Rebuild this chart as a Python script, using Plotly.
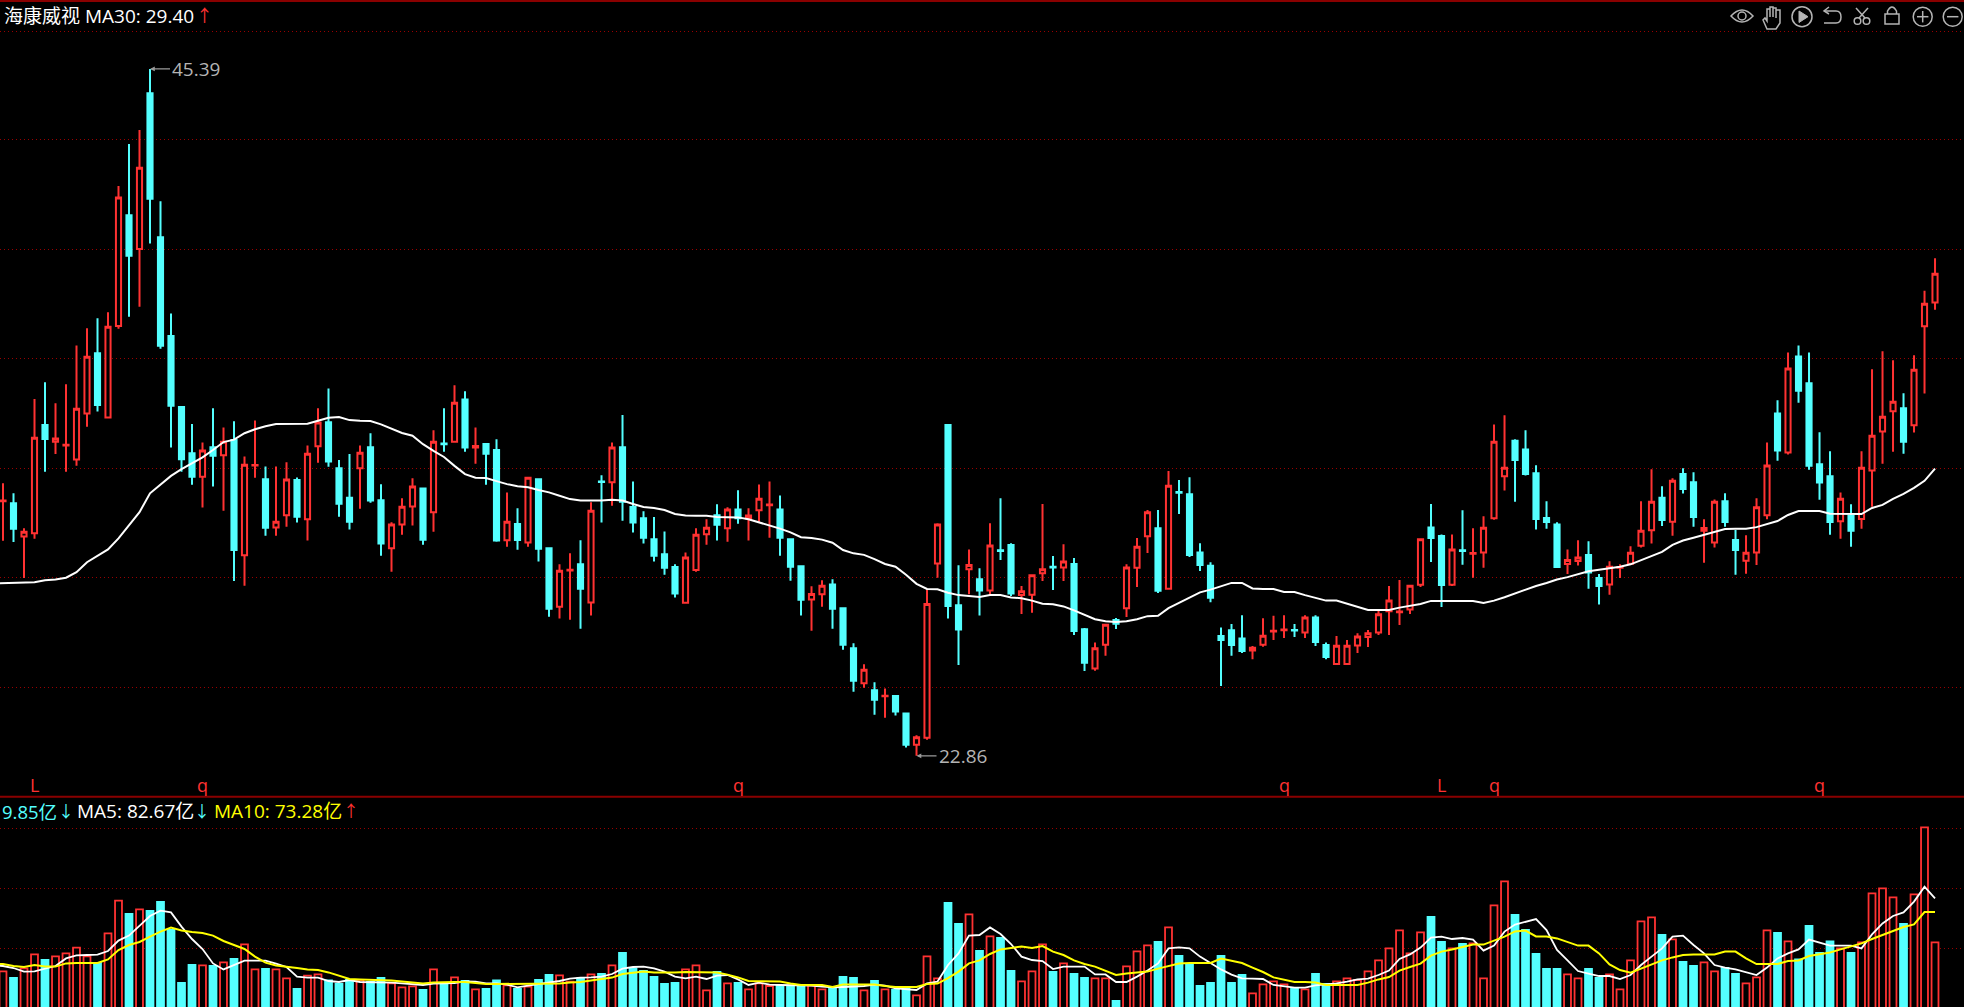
import plotly.graph_objects as go
from plotly.subplots import make_subplots

# daily candles
opens = [31.21, 31.14, 30.05, 30.16, 33.71, 33.16, 33.04, 32.58, 34.09, 36.06,
         33.96, 36.96, 40.59, 39.48, 44.59, 39.87, 36.63, 34.30, 32.78, 32.01,
         32.98, 32.72, 33.22, 29.44, 32.38, 31.93, 30.35, 30.75, 31.91, 30.62,
         33.01, 33.80, 32.29, 31.32, 32.29, 32.98, 31.24, 29.67, 30.45, 31.04,
         31.63, 30.85, 33.10, 33.16, 34.55, 32.97, 33.09, 32.89, 29.93, 30.46,
         29.86, 31.93, 29.67, 27.75, 28.94, 29.14, 27.89, 31.86, 31.83, 32.98,
         31.02, 30.65, 29.96, 29.47, 29.05, 27.88, 28.95, 30.13, 30.75, 30.32,
         30.94, 30.64, 30.91, 31.08, 30.94, 29.96, 29.08, 27.99, 28.16, 28.48,
         27.70, 26.39, 25.24, 25.01, 24.81, 24.82, 24.25, 23.22, 23.45, 29.17,
         33.71, 27.80, 28.98, 28.65, 28.28, 29.60, 29.77, 28.13, 28.14, 28.85,
         29.06, 29.04, 29.15, 27.01, 25.72, 26.50, 27.31, 27.70, 29.03, 30.06,
         30.32, 28.34, 31.51, 31.44, 29.53, 29.09, 26.79, 26.98, 26.71, 26.31,
         26.50, 26.94, 26.98, 26.99, 26.90, 27.40, 26.49, 25.87, 25.87, 26.48,
         26.76, 26.90, 27.60, 27.57, 27.66, 28.47, 30.35, 30.07, 28.47, 29.60,
         29.49, 29.53, 30.65, 32.03, 33.19, 32.91, 32.13, 30.66, 30.45, 29.15,
         29.25, 29.45, 28.69, 28.48, 29.03, 29.16, 29.75, 30.26, 31.32, 30.54,
         32.10, 31.83, 30.24, 29.86, 31.21, 29.94, 29.26, 29.53, 30.75, 34.09,
         32.81, 35.96, 35.08, 32.42, 32.03, 30.55, 30.73, 30.63, 32.22, 33.50,
         34.16, 34.26, 33.70, 36.95, 37.73]
highs = [31.80, 31.47, 30.32, 34.56, 35.11, 34.42, 35.05, 36.32, 36.88, 37.21,
         37.41, 41.55, 42.93, 43.39, 45.39, 41.05, 37.37, 34.33, 33.74, 33.14,
         34.26, 33.63, 33.83, 32.68, 33.86, 32.35, 32.35, 32.49, 31.99, 33.04,
         34.26, 34.91, 32.56, 32.76, 33.04, 33.44, 31.77, 30.52, 31.31, 31.96,
         31.63, 33.54, 34.26, 35.01, 34.82, 33.63, 33.09, 33.24, 31.50, 30.98,
         31.98, 31.93, 29.67, 29.14, 29.50, 29.93, 31.18, 32.06, 33.14, 34.04,
         31.86, 30.88, 30.69, 30.22, 29.14, 29.53, 30.32, 30.62, 31.11, 31.01,
         31.57, 30.98, 31.76, 31.86, 31.40, 29.96, 29.11, 28.42, 28.62, 28.65,
         27.73, 26.55, 25.86, 25.27, 25.07, 24.82, 24.25, 23.53, 28.32, 30.49,
         33.71, 29.11, 29.63, 29.01, 30.49, 31.31, 29.83, 28.43, 28.81, 31.12,
         29.41, 29.80, 29.35, 27.05, 26.58, 27.16, 27.38, 29.14, 30.00, 30.92,
         30.92, 32.20, 31.91, 32.00, 29.83, 29.21, 27.07, 27.18, 27.47, 26.46,
         27.37, 27.45, 27.47, 27.18, 27.47, 27.47, 26.58, 26.79, 26.66, 26.88,
         26.99, 27.61, 28.43, 28.63, 28.44, 29.99, 31.12, 30.12, 30.12, 30.91,
         30.32, 30.72, 33.73, 34.03, 33.24, 33.54, 32.39, 31.21, 30.52, 29.63,
         29.93, 29.90, 28.82, 29.24, 29.14, 29.73, 31.21, 32.26, 31.70, 31.96,
         32.29, 32.16, 30.62, 31.27, 31.47, 30.27, 30.09, 31.31, 33.14, 34.52,
         36.09, 36.32, 36.09, 33.47, 32.85, 31.50, 31.11, 32.85, 35.54, 36.13,
         35.83, 34.75, 36.00, 38.11, 39.18]
lows = [29.91, 29.87, 28.69, 29.98, 32.18, 32.76, 32.18, 32.37, 33.65, 34.15,
        33.92, 36.87, 37.26, 37.59, 39.66, 36.21, 32.97, 32.18, 31.75, 31.00,
        31.69, 30.90, 28.59, 28.44, 31.98, 30.08, 30.08, 30.37, 30.51, 29.92,
        32.47, 32.34, 30.70, 30.28, 30.96, 31.16, 29.42, 28.90, 30.11, 30.41,
        29.78, 30.21, 32.83, 33.13, 32.83, 32.44, 31.75, 29.88, 29.72, 29.62,
        29.72, 29.23, 27.42, 27.36, 27.32, 27.03, 27.46, 30.51, 31.06, 30.57,
        30.18, 29.82, 29.23, 28.80, 28.05, 27.86, 28.90, 29.78, 29.92, 29.88,
        30.47, 29.92, 30.54, 30.01, 29.42, 28.60, 27.46, 26.96, 27.75, 27.03,
        26.34, 24.96, 25.09, 24.21, 24.11, 24.18, 23.13, 22.86, 23.39, 28.70,
        27.36, 25.84, 28.16, 27.46, 28.13, 29.28, 28.10, 27.51, 27.55, 28.59,
        28.30, 28.59, 26.82, 25.64, 25.65, 26.14, 27.02, 27.41, 28.40, 29.51,
        28.20, 28.31, 30.79, 29.38, 28.92, 27.90, 25.15, 26.14, 26.23, 26.03,
        26.44, 26.66, 26.72, 26.76, 26.72, 26.46, 26.03, 25.84, 25.84, 26.23,
        26.43, 26.82, 26.82, 27.15, 27.51, 28.40, 29.22, 27.74, 28.43, 29.13,
        28.70, 29.03, 30.60, 31.56, 31.19, 32.05, 30.28, 30.31, 29.02, 28.82,
        29.10, 28.34, 27.82, 28.14, 28.69, 29.12, 29.69, 29.82, 30.40, 30.08,
        31.46, 30.37, 29.19, 29.69, 30.37, 28.80, 28.83, 29.12, 30.62, 32.54,
        32.74, 34.44, 32.24, 31.26, 30.11, 29.98, 29.72, 30.31, 31.03, 32.44,
        32.83, 32.77, 33.46, 34.74, 37.49]
closes = [31.23, 30.31, 30.21, 33.29, 33.25, 33.27, 33.06, 34.24, 35.95, 34.37,
          36.93, 41.17, 39.26, 42.15, 41.13, 36.31, 34.34, 32.59, 32.01, 32.87,
          32.70, 33.16, 29.61, 32.41, 32.40, 30.34, 30.54, 31.92, 30.70, 32.77,
          33.79, 32.51, 31.13, 30.54, 32.80, 31.23, 29.82, 30.45, 31.03, 31.69,
          29.95, 33.16, 33.08, 34.44, 32.97, 33.02, 32.77, 29.92, 30.54, 29.94,
          31.98, 29.65, 27.68, 28.93, 28.96, 28.34, 30.90, 31.84, 32.97, 31.19,
          30.51, 30.01, 29.42, 29.03, 28.18, 29.36, 30.11, 30.34, 30.44, 30.94,
          30.65, 30.74, 31.29, 31.10, 30.01, 29.06, 27.98, 28.17, 28.44, 27.68,
          26.50, 25.32, 25.68, 24.70, 24.83, 24.31, 23.22, 23.47, 27.84, 30.45,
          27.77, 27.00, 29.12, 28.28, 29.76, 29.58, 28.18, 28.26, 28.78, 28.98,
          29.04, 29.23, 26.95, 25.91, 26.39, 27.16, 27.19, 29.04, 29.72, 30.85,
          28.27, 31.72, 31.49, 29.45, 29.12, 28.04, 26.66, 26.49, 26.30, 26.40,
          26.80, 26.96, 27.00, 26.97, 27.40, 26.59, 26.10, 26.47, 26.47, 26.77,
          26.88, 27.50, 27.95, 27.59, 28.44, 29.96, 30.00, 28.46, 29.63, 29.58,
          29.51, 30.34, 33.16, 32.31, 32.56, 32.10, 30.63, 30.53, 29.05, 29.28,
          29.36, 28.87, 28.43, 29.06, 29.05, 29.52, 30.24, 31.19, 30.59, 31.88,
          31.61, 30.69, 30.33, 31.19, 30.53, 29.61, 29.52, 31.01, 32.38, 32.87,
          35.56, 34.83, 32.37, 31.82, 30.53, 31.29, 30.24, 32.31, 33.36, 33.98,
          34.47, 33.16, 35.52, 37.69, 38.67]
# the moving averages carry one extra point: the day just off the left edge
ma30 = [28.51,
        28.52, 28.53, 28.54, 28.55, 28.62, 28.64, 28.70, 28.88, 29.21, 29.41,
        29.63, 29.99, 30.43, 30.85, 31.47, 31.74, 32.04, 32.26, 32.45, 32.65,
        32.89, 33.15, 33.23, 33.44, 33.57, 33.67, 33.74, 33.75, 33.75, 33.75,
        33.85, 33.95, 33.97, 33.87, 33.85, 33.84, 33.73, 33.58, 33.45, 33.36,
        33.08, 32.86, 32.66, 32.37, 32.10, 31.98, 31.97, 31.87, 31.77, 31.70,
        31.67, 31.58, 31.50, 31.39, 31.28, 31.23, 31.23, 31.23, 31.26, 31.23,
        31.12, 31.02, 30.99, 30.92, 30.79, 30.74, 30.73, 30.73, 30.69, 30.69,
        30.68, 30.62, 30.52, 30.40, 30.31, 30.19, 30.03, 30.00, 29.95, 29.85,
        29.61, 29.50, 29.45, 29.31, 29.15, 29.06, 28.80, 28.50, 28.33, 28.32,
        28.21, 28.13, 28.11, 28.07, 28.13, 28.13, 28.05, 28.03, 27.95, 27.85,
        27.83, 27.76, 27.63, 27.48, 27.34, 27.27, 27.25, 27.27, 27.34, 27.44,
        27.45, 27.70, 27.87, 28.05, 28.22, 28.31, 28.43, 28.53, 28.53, 28.35,
        28.33, 28.33, 28.23, 28.23, 28.13, 28.03, 27.95, 27.95, 27.85, 27.75,
        27.64, 27.64, 27.64, 27.72, 27.77, 27.84, 27.94, 27.94, 27.94, 27.94,
        27.94, 27.87, 27.95, 28.06, 28.18, 28.32, 28.43, 28.53, 28.64, 28.72,
        28.81, 28.91, 28.96, 29.01, 29.06, 29.14, 29.28, 29.42, 29.55, 29.78,
        29.92, 30.01, 30.11, 30.22, 30.30, 30.31, 30.31, 30.36, 30.46, 30.56,
        30.76, 30.89, 30.89, 30.89, 30.80, 30.79, 30.79, 30.79, 30.99, 31.09,
        31.29, 31.45, 31.65, 31.88, 32.28]

# volume in 亿, same days
volume = [44.3, 41.0, 45.8, 52.8, 50.0, 51.8, 53.3, 56.2, 51.8, 48.5,
          63.3, 79.7, 73.0, 75.3, 74.5, 79.0, 65.0, 38.5, 47.5, 47.3,
          47.0, 48.8, 50.5, 57.8, 45.3, 45.5, 45.3, 40.8, 35.5, 42.2,
          42.8, 39.8, 38.0, 40.0, 40.0, 39.0, 41.0, 38.3, 36.3, 36.8,
          35.0, 45.3, 38.0, 41.3, 39.5, 35.3, 35.5, 39.8, 37.3, 35.5,
          36.7, 40.0, 42.5, 42.3, 39.2, 40.8, 42.8, 43.0, 47.3, 53.5,
          45.8, 44.5, 41.5, 38.0, 38.5, 45.3, 47.3, 34.8, 44.0, 38.3,
          38.5, 35.3, 38.3, 37.0, 37.2, 37.2, 37.3, 37.2, 35.3, 36.3,
          41.5, 41.0, 34.8, 39.5, 35.3, 35.0, 35.8, 32.3, 51.8, 40.8,
          78.5, 68.0, 72.8, 54.5, 61.8, 61.0, 44.5, 39.3, 44.3, 57.8,
          44.0, 48.3, 43.0, 41.0, 40.8, 40.8, 29.5, 46.8, 54.3, 57.3,
          59.0, 66.3, 52.0, 47.5, 37.0, 38.5, 52.0, 38.5, 42.5, 33.3,
          37.8, 39.3, 37.8, 36.0, 35.3, 43.0, 38.0, 39.3, 40.8, 40.0,
          44.3, 49.8, 55.8, 64.8, 53.3, 63.8, 71.5, 59.0, 55.8, 58.0,
          58.3, 40.8, 77.3, 89.3, 72.5, 65.0, 53.0, 45.5, 45.5, 42.8,
          40.8, 45.5, 41.0, 42.8, 35.3, 49.8, 69.3, 71.3, 62.5, 60.3,
          49.0, 47.0, 48.8, 44.3, 46.0, 43.0, 38.3, 41.3, 64.8, 63.5,
          59.3, 50.3, 67.0, 53.5, 59.3, 55.8, 53.5, 58.8, 83.3, 85.8,
          81.3, 68.0, 82.8, 116.3, 58.8]
vol_ma5 = [47.2,
           47.0, 46.0, 44.2, 44.3, 45.8, 47.0, 50.8, 52.3, 52.5, 52.7,
           54.5, 59.7, 62.2, 67.0, 72.0, 74.7, 73.8, 66.7, 60.5, 55.5,
           48.3, 45.3, 47.5, 49.7, 49.7, 49.7, 48.2, 46.5, 41.7, 41.2,
           41.2, 39.5, 39.0, 40.0, 39.0, 39.0, 39.0, 38.7, 38.3, 37.8,
           37.5, 38.2, 38.3, 38.5, 39.3, 39.2, 38.3, 38.3, 37.7, 36.3,
           37.2, 38.0, 38.7, 39.5, 40.7, 41.2, 41.3, 41.7, 43.0, 45.7,
           46.5, 46.7, 45.8, 44.2, 41.7, 40.8, 41.7, 40.5, 42.2, 42.5,
           40.3, 37.5, 38.7, 37.7, 37.5, 37.5, 37.5, 37.2, 36.7, 36.3,
           36.5, 36.7, 37.0, 37.7, 37.2, 35.8, 35.3, 35.0, 38.3, 39.2,
           47.5, 53.3, 62.2, 62.5, 66.3, 63.0, 58.0, 51.7, 50.0, 49.5,
           45.5, 46.7, 46.7, 46.7, 42.8, 42.8, 39.0, 39.0, 41.7, 44.7,
           48.3, 55.8, 56.3, 55.8, 51.7, 48.3, 45.3, 42.7, 40.8, 40.7,
           40.5, 37.5, 36.8, 36.2, 36.2, 37.3, 37.8, 38.3, 39.2, 40.3,
           40.7, 42.5, 44.7, 50.5, 52.8, 56.2, 61.2, 61.7, 60.5, 61.0,
           60.2, 54.7, 57.2, 64.2, 67.7, 69.2, 70.5, 65.0, 55.0, 49.8,
           44.5, 43.2, 42.0, 42.0, 40.5, 42.5, 47.5, 51.7, 55.8, 61.7,
           62.2, 57.5, 53.3, 47.5, 46.2, 45.3, 43.8, 42.5, 46.2, 50.8,
           53.3, 55.3, 60.2, 58.7, 57.2, 57.2, 57.2, 55.8, 62.8, 68.3,
           72.0, 73.8, 79.2, 86.7, 80.8]
vol_ma10 = [48.2,
            48.0, 47.0, 46.5, 47.5, 46.8, 46.7, 48.3, 48.5, 48.5, 48.5,
            50.3, 55.0, 57.5, 59.0, 61.7, 64.2, 66.2, 64.8, 64.0, 63.5,
            62.2, 59.5, 57.5, 55.5, 51.7, 48.7, 47.3, 46.8, 46.0, 45.3,
            45.0, 43.8, 42.3, 40.5, 40.3, 40.2, 40.0, 39.7, 39.3, 38.7,
            38.3, 38.8, 39.0, 39.0, 39.0, 38.5, 38.0, 38.0, 38.0, 38.0,
            38.0, 38.0, 38.2, 38.3, 38.7, 39.0, 39.7, 40.3, 41.2, 43.0,
            43.8, 44.3, 43.8, 43.7, 43.7, 44.0, 44.0, 43.8, 43.7, 42.7,
            41.3, 39.5, 39.5, 39.3, 39.3, 38.3, 37.5, 37.5, 37.5, 36.5,
            37.7, 37.7, 37.7, 37.8, 37.0, 36.5, 36.5, 36.5, 38.0, 38.2,
            41.0, 44.2, 48.3, 49.8, 53.0, 55.3, 56.0, 56.7, 56.0, 57.0,
            54.2, 52.5, 49.8, 48.0, 46.7, 44.7, 42.5, 43.3, 43.8, 44.2,
            45.7, 47.0, 48.3, 48.5, 48.5, 48.5, 50.7, 49.7, 48.5, 46.2,
            44.0, 41.3, 40.0, 39.0, 39.0, 38.7, 37.5, 37.5, 37.5, 37.5,
            38.7, 40.3, 41.5, 44.7, 46.5, 48.2, 52.2, 54.2, 55.3, 56.7,
            57.8, 57.7, 59.7, 61.7, 64.3, 64.7, 61.8, 61.7, 60.8, 58.8,
            57.2, 57.2, 53.3, 47.8, 45.0, 43.7, 45.7, 47.8, 49.8, 51.3,
            52.5, 52.7, 52.7, 52.8, 54.2, 54.2, 50.8, 48.0, 48.0, 48.0,
            49.5, 49.8, 52.0, 53.0, 53.8, 55.3, 56.7, 58.3, 60.5, 62.5,
            64.5, 66.5, 67.8, 74.0, 74.0]

# dotted levels, and the red letters along the bottom of the price pane
price_levels = [46.61, 43.06, 39.47, 35.89, 32.29, 28.72, 25.11]
vol_levels = [55.85, 85.85, 115.85]
mark_days = [3, 19, 70, 122, 137, 142, 173]
mark_text = ['L', 'q', 'q', 'q', 'L', 'q', 'q']

RED = '#ff3232'
CYAN = '#54ffff'
GRID = '#990000'
GREY = '#b4b4b4'
FONT = 'Open Sans, Noto Sans CJK SC'
W, H = 1964, 1007

days = list(range(len(closes)))
ma_days = [-1] + days
is_up = [c >= o for o, c in zip(opens, closes)]

fig = make_subplots(rows=2, cols=1, shared_xaxes=True, vertical_spacing=0)

fig.add_trace(go.Candlestick(
    x=days, open=opens, high=highs, low=lows, close=closes,
    increasing=dict(line=dict(color=RED, width=2), fillcolor='#000000'),
    decreasing=dict(line=dict(color=CYAN, width=2), fillcolor=CYAN),
    whiskerwidth=0, hoverinfo='skip'), row=1, col=1)
fig.add_trace(go.Scatter(x=ma_days, y=ma30, mode='lines', hoverinfo='skip',
                         line=dict(color='#ffffff', width=2)), row=1, col=1)

fig.add_trace(go.Bar(
    x=days, y=volume, width=0.66, hoverinfo='skip',
    marker=dict(color=['#000000' if u else CYAN for u in is_up],
                line=dict(color=[RED if u else CYAN for u in is_up], width=1.8))),
    row=2, col=1)
fig.add_trace(go.Scatter(x=ma_days, y=vol_ma5, mode='lines', hoverinfo='skip',
                         line=dict(color='#ffffff', width=1.8)), row=2, col=1)
fig.add_trace(go.Scatter(x=ma_days, y=vol_ma10, mode='lines', hoverinfo='skip',
                         line=dict(color='#ffff00', width=2)), row=2, col=1)

fig.update_layout(
    width=W, height=H, margin=dict(l=0, r=0, t=0, b=0),
    paper_bgcolor='#000000', plot_bgcolor='#000000',
    showlegend=False, hovermode=False,
    font=dict(family=FONT, color='#ffffff'),
    xaxis=dict(rangeslider=dict(visible=False)),
    xaxis2=dict(rangeslider=dict(visible=False)),
    yaxis=dict(domain=[0.2095, 1], range=[21.54, 47.65]),
    yaxis2=dict(domain=[0, 0.2085], range=[26.5, 131.5]))
fig.update_xaxes(range=[-0.2857, 186.76], visible=False, showgrid=False)
fig.update_yaxes(showticklabels=False, zeroline=False, showline=False, ticks='',
                 gridcolor=GRID, gridwidth=1, griddash='1px,3px')
fig.update_yaxes(tickmode='array', tickvals=price_levels, row=1, col=1)
fig.update_yaxes(tickmode='array', tickvals=vol_levels, row=2, col=1)


def px(x, y):
    return '%.5f %.5f' % (x / W, 1 - y / H)


def path_shape(cmds, width=1.5):
    # cmds: ('M', x, y), ('L', x, y), ('Z',) or ('Q', cx, cy, x, y) in page pixels
    parts = []
    for c in cmds:
        if c[0] == 'Z':
            parts.append('Z')
        elif c[0] == 'Q':
            parts.append('Q %s %s' % (px(c[1], c[2]), px(c[3], c[4])))
        else:
            parts.append('%s %s' % (c[0], px(c[1], c[2])))
    fig.add_shape(type='path', xref='paper', yref='paper', path=' '.join(parts),
                  line=dict(color=GREY, width=width))


def circle(cx, cy, r, width=1.5):
    fig.add_shape(type='circle', xref='paper', yref='paper',
                  x0=(cx - r) / W, x1=(cx + r) / W, y0=1 - (cy + r) / H, y1=1 - (cy - r) / H,
                  line=dict(color=GREY, width=width))


def label(x, y, text, size, color, anchor='left'):
    fig.add_annotation(xref='paper', yref='paper', x=x / W, y=1 - y / H, xanchor=anchor, yanchor='middle',
                       showarrow=False, text=text, font=dict(size=size, color=color, family=FONT))


# pane borders
for y_line in [1, 796.7]:
    fig.add_shape(type='line', xref='paper', yref='paper', x0=0, x1=1,
                  y0=1 - y_line / H, y1=1 - y_line / H,
                  line=dict(color='#8a0000', width=2))

# toolbar icons
path_shape([('M', 1731, 16), ('Q', 1742, 4, 1753, 16), ('Q', 1742, 28, 1731, 16), ('Z',)])
circle(1742, 16, 4)
path_shape([('M', 1767, 29), ('L', 1763, 20), ('L', 1765, 18), ('L', 1767, 21), ('L', 1767, 9),
            ('L', 1770, 9), ('L', 1770, 17), ('L', 1770, 7), ('L', 1773, 7), ('L', 1773, 17),
            ('L', 1773, 8), ('L', 1776, 8), ('L', 1776, 18), ('L', 1776, 10), ('L', 1780, 10),
            ('L', 1780, 23), ('L', 1776, 29), ('Z',)])
circle(1802, 16.7, 10)
fig.add_shape(type='path', xref='paper', yref='paper',
              path='M %s L %s L %s Z' % (px(1799, 11), px(1808, 16.7), px(1799, 22.5)),
              fillcolor=GREY, line=dict(color=GREY, width=1))
path_shape([('M', 1829, 7), ('L', 1824, 11), ('L', 1829, 14)])
path_shape([('M', 1824, 11), ('L', 1836, 11), ('Q', 1841, 11, 1841, 17), ('Q', 1841, 23, 1836, 23),
            ('L', 1824, 23)])
circle(1857.5, 21, 3.3)
circle(1866.5, 21, 3.3)
path_shape([('M', 1859, 18), ('L', 1868, 8)])
path_shape([('M', 1865, 18), ('L', 1856, 8)])
path_shape([('M', 1885, 14), ('L', 1899, 14), ('L', 1899, 24), ('L', 1885, 24), ('Z',)])
path_shape([('M', 1887.5, 14), ('L', 1887.5, 11), ('Q', 1892, 3, 1896.5, 11), ('L', 1896.5, 14)])
circle(1922.7, 16.7, 9.5)
path_shape([('M', 1917, 16.7), ('L', 1928.4, 16.7)])
path_shape([('M', 1922.7, 11), ('L', 1922.7, 22.4)])
circle(1952.7, 16.7, 9.5)
path_shape([('M', 1947, 16.7), ('L', 1958.4, 16.7)])

# header text, arrows set apart so they sit tight against the numbers
label(2, 16, '海康威视 MA30: 29.40', 19, '#ffffff')
label(204, 16, '↑', 17, RED, 'center')
label(0, 811, '9.85亿', 18.5, CYAN)
label(65.5, 811, '↓', 16, CYAN, 'center')
label(75, 811, 'MA5: 82.67亿', 19, '#ffffff')
label(202, 811, '↓', 16, CYAN, 'center')
label(212, 811, 'MA10: 73.28亿', 19, '#ffff00')
label(351, 811, '↑', 16, RED, 'center')

# high and low tags
for day, price in [(highs.index(max(highs)), max(highs)), (lows.index(min(lows)), min(lows))]:
    fig.add_annotation(x=day, y=price, xref='x', yref='y', text='%.2f' % price,
                       xanchor='left', yanchor='middle', ax=20, ay=0,
                       showarrow=True, arrowhead=2, arrowsize=0.8, arrowwidth=1.2,
                       arrowcolor='#9a9a9a', font=dict(size=19, color=GREY, family=FONT))

for day, letter in zip(mark_days, mark_text):
    fig.add_annotation(x=day, y=1 - 785 / H, xref='x', yref='paper', text=letter, showarrow=False,
                       yanchor='middle', font=dict(size=18, color=RED, family=FONT))

fig.write_html("out.html", config=dict(displayModeBar=False),
               post_script="document.body.style.margin='0';document.body.style.background='#000';"
                           "document.body.style.overflow='hidden';")
